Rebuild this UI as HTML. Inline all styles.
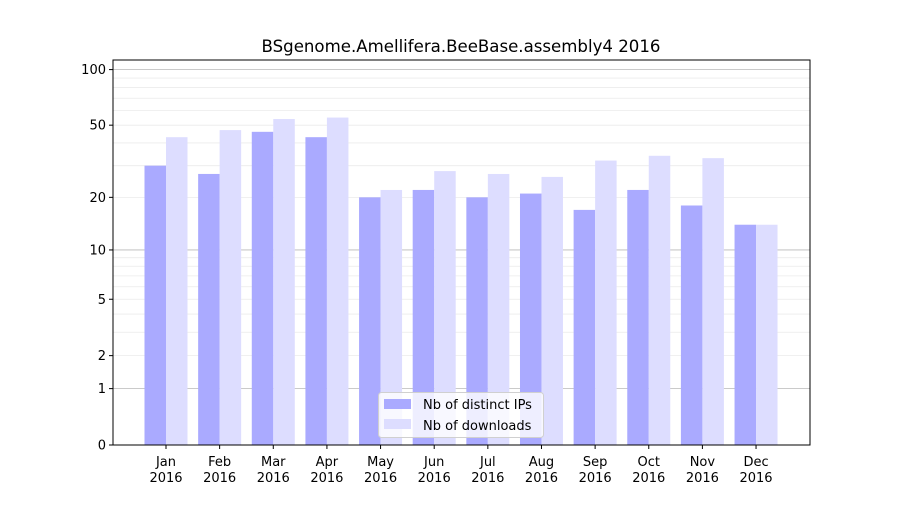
<!DOCTYPE html>
<html><head><meta charset="utf-8"><style>
body{margin:0;background:#fff;}
svg text{font-family:"DejaVu Sans","Liberation Sans",sans-serif;}
</style></head><body>
<svg id="s" width="900" height="500" xmlns="http://www.w3.org/2000/svg"></svg>
<script>
const s=document.getElementById('s');
const L=113,R=810,T=60,B=445,K=187.3;
const Y=v=>B-K*Math.log10(1+v);
let h='<rect width="900" height="500" fill="#fff"/>';
const minors=[2,3,4,5,6,7,8,9,20,30,40,50,60,70,80,90];
minors.forEach(v=>{h+=`<line x1="${L}" x2="${R}" y1="${Y(v)}" y2="${Y(v)}" stroke="#ebebeb" stroke-width="0.8"/>`;});
[1,10,100].forEach(v=>{h+=`<line x1="${L}" x2="${R}" y1="${Y(v)}" y2="${Y(v)}" stroke="#b8b8b8" stroke-width="0.8"/>`;});
const ips=[30,27,46,43,20,22,20,21,17,22,18,14];
const dl=[43,47,54,55,22,28,27,26,32,34,33,14];
const m=['Jan','Feb','Mar','Apr','May','Jun','Jul','Aug','Sep','Oct','Nov','Dec'];
for(let i=0;i<12;i++){
 const c=166+i*53.64;
 h+=`<rect x="${c-21.5}" y="${Y(ips[i])}" width="21.5" height="${B-Y(ips[i])}" fill="#aaaaff"/>`;
 h+=`<rect x="${c}" y="${Y(dl[i])}" width="21.5" height="${B-Y(dl[i])}" fill="#ddddff"/>`;
 h+=`<line x1="${c}" x2="${c}" y1="${B}" y2="${B+4}" stroke="#000"/>`;
 h+=`<text x="${c}" y="466" font-size="13" text-anchor="middle">${m[i]}</text><text x="${c}" y="482" font-size="13" text-anchor="middle">2016</text>`;
}
[[0,'0'],[1,'1'],[2,'2'],[5,'5'],[10,'10'],[20,'20'],[50,'50'],[100,'100']].forEach(([v,t])=>{
 const y=Y(v);
 h+=`<line x1="${L-4}" x2="${L}" y1="${y}" y2="${y}" stroke="#000"/>`;
 h+=`<text x="${L-7}" y="${y+4.5}" font-size="13" text-anchor="end">${t}</text>`;
});
h+=`<rect x="${L}" y="${T}" width="${R-L}" height="${B-T}" fill="none" stroke="#000" stroke-width="1"/>`;
h+=`<text x="461" y="52" font-size="16.6" text-anchor="middle">BSgenome.Amellifera.BeeBase.assembly4 2016</text>`;
h+=`<rect x="378.5" y="392.5" width="165" height="45" rx="3" fill="#fff" fill-opacity="0.8" stroke="#d0d0d0"/>`;
h+=`<rect x="384" y="399" width="27" height="10" fill="#aaaaff"/><text x="423" y="409" font-size="13">Nb of distinct IPs</text>`;
h+=`<rect x="384" y="419" width="27" height="10" fill="#ddddff"/><text x="423" y="430" font-size="13">Nb of downloads</text>`;
s.innerHTML=h;
</script>
</body></html>
